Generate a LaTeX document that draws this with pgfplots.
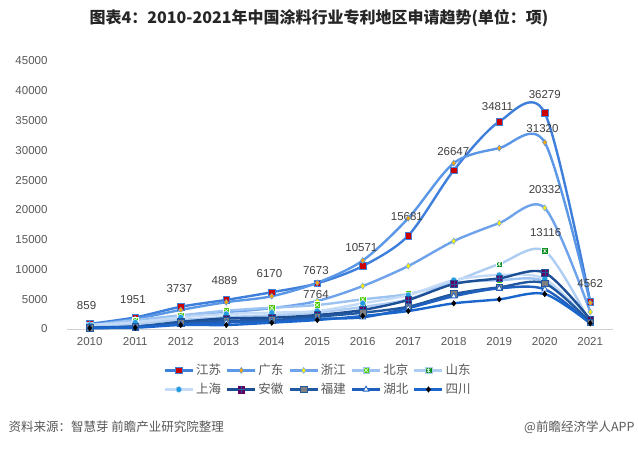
\documentclass[border=0pt]{standalone}
\usepackage{pgfplots}
\pgfplotsset{compat=1.18}
\usepackage{fontspec}
\setmainfont{Liberation Sans}
\newfontfamily\cjk{Noto Sans CJK SC}

\definecolor{cJS}{HTML}{3F7FDC}
\definecolor{cGD}{HTML}{5A97E6}
\definecolor{cZJ}{HTML}{6EA3EC}
\definecolor{cBJ}{HTML}{9CC3F2}
\definecolor{cSD}{HTML}{AECDF3}
\definecolor{cSH}{HTML}{C4DBF7}
\definecolor{cAH}{HTML}{1C4F96}
\definecolor{cFJ}{HTML}{22589F}
\definecolor{cHB}{HTML}{1F60BE}
\definecolor{cSC}{HTML}{1A66CC}
\definecolor{txt}{HTML}{595959}
\definecolor{lbl}{HTML}{404040}

\pgfdeclareplotmark{sqx}{%
  \pgfpathrectangle{\pgfqpoint{-\pgfplotmarksize}{-\pgfplotmarksize}}{\pgfqpoint{2\pgfplotmarksize}{2\pgfplotmarksize}}%
  \pgfusepathqfillstroke
  \pgfsetstrokecolor{white}\pgfsetlinewidth{0.5pt}%
  \pgfpathmoveto{\pgfqpoint{-0.6\pgfplotmarksize}{-0.6\pgfplotmarksize}}\pgfpathlineto{\pgfqpoint{0.6\pgfplotmarksize}{0.6\pgfplotmarksize}}%
  \pgfpathmoveto{\pgfqpoint{-0.6\pgfplotmarksize}{0.6\pgfplotmarksize}}\pgfpathlineto{\pgfqpoint{0.6\pgfplotmarksize}{-0.6\pgfplotmarksize}}%
  \pgfusepathqstroke}
\pgfdeclareplotmark{sqast}{%
  \pgfpathrectangle{\pgfqpoint{-\pgfplotmarksize}{-\pgfplotmarksize}}{\pgfqpoint{2\pgfplotmarksize}{2\pgfplotmarksize}}%
  \pgfusepathqfillstroke
  \pgfsetstrokecolor{white}\pgfsetlinewidth{0.5pt}%
  \pgfpathmoveto{\pgfqpoint{-0.6\pgfplotmarksize}{-0.6\pgfplotmarksize}}\pgfpathlineto{\pgfqpoint{0.6\pgfplotmarksize}{0.6\pgfplotmarksize}}%
  \pgfpathmoveto{\pgfqpoint{-0.6\pgfplotmarksize}{0.6\pgfplotmarksize}}\pgfpathlineto{\pgfqpoint{0.6\pgfplotmarksize}{-0.6\pgfplotmarksize}}%
  \pgfpathmoveto{\pgfqpoint{0pt}{-0.7\pgfplotmarksize}}\pgfpathlineto{\pgfqpoint{0pt}{0.7\pgfplotmarksize}}%
  \pgfusepathqstroke}
\pgfdeclareplotmark{sqplus}{%
  \pgfpathrectangle{\pgfqpoint{-\pgfplotmarksize}{-\pgfplotmarksize}}{\pgfqpoint{2\pgfplotmarksize}{2\pgfplotmarksize}}%
  \pgfusepathqfillstroke
  \pgfsetstrokecolor{cFJ}\pgfsetlinewidth{0.5pt}%
  \pgfpathmoveto{\pgfqpoint{0pt}{-\pgfplotmarksize}}\pgfpathlineto{\pgfqpoint{0pt}{\pgfplotmarksize}}%
  \pgfpathmoveto{\pgfqpoint{-\pgfplotmarksize}{0pt}}\pgfpathlineto{\pgfqpoint{\pgfplotmarksize}{0pt}}%
  \pgfusepathqstroke}

\begin{document}
\begin{tikzpicture}[x=1pt,y=1pt]
\path[use as bounding box, fill=white] (0,0) rectangle (638,450);
\node[font=\cjk\bfseries\fontsize{16}{19}\selectfont, text=black!85] at (319,432) {图表4：2010-2021年中国涂料行业专利地区申请趋势(单位：项)};
\node[font=\cjk\fontsize{12.5}{15}\selectfont, text=txt, anchor=west] at (5,23) {资料来源：智慧芽 前瞻产业研究院整理};
\node[font=\cjk\fontsize{12.5}{15}\selectfont, text=txt, anchor=east] at (638,23) {@前瞻经济学人APP};
\begin{axis}[
  at={(67pt,121pt)}, anchor=south west,
  scale only axis, width=546pt, height=268pt,
  xmin=-0.5, xmax=11.5, ymin=0, ymax=45000,
  xtick={0,...,11},
  xticklabels={2010,2011,2012,2013,2014,2015,2016,2017,2018,2019,2020,2021},
  ytick={0,5000,...,45000},
  scaled y ticks=false,
  /pgf/number format/assume math mode=true,
  yticklabel={\pgfmathprintnumber[fixed,1000 sep={}]{\tick}},
  axis lines*=left,
  x axis line style={draw=black!18, line width=0.8pt, -},
  y axis line style={draw=none},
  major tick length=0pt,
  tick label style={font=\fontsize{11.5}{13}\selectfont, text=txt},
  yticklabel style={xshift=-16pt},
  xticklabel style={yshift=-5pt},
  every axis plot/.append style={smooth, tension=0.5, line width=2.4pt},
  legend columns=5,
  legend style={at={(0.46,-0.19)}, anchor=center, draw=none, fill=none,
    font=\cjk\fontsize{12.5}{15}\selectfont, text=txt, row sep=3pt,
    /tikz/every even column/.append style={column sep=3pt}},
  legend image code/.code={\draw[mark repeat=2,mark phase=2,#1] plot coordinates {(0pt,0pt) (14pt,0pt) (28pt,0pt)};},
  clip=false,
]
\addplot[color=cJS, mark=square*, mark size=3.3pt, mark options={solid, fill=red!80!black, draw=cJS, line width=0.8pt}] coordinates {
(0,859) (1,1951) (2,3737) (3,4889) (4,6170) (5,7673) (6,10571) (7,15681) (8,26647) (9,34811) (10,36279) (11,4562)};
\addlegendentry{江苏}
\addplot[color=cGD, mark=diamond*, mark size=3pt, mark options={solid, fill=orange!70!yellow, draw=cGD, line width=0.5pt}] coordinates {
(0,700) (1,1700) (2,3200) (3,4500) (4,5500) (5,7764) (6,11500) (7,18600) (8,27850) (9,30370) (10,31320) (11,4400)};
\addlegendentry{广东}
\addplot[color=cZJ, mark=diamond*, mark size=3pt, mark options={solid, fill=yellow, draw=cZJ, line width=0.5pt}] coordinates {
(0,400) (1,1000) (2,2000) (3,2800) (4,3500) (5,4700) (6,7210) (7,10570) (8,14760) (9,17780) (10,20332) (11,2850)};
\addlegendentry{浙江}
\addplot[color=cBJ, mark=sqx, mark size=3.3pt, mark options={solid, fill=green!55!lime!80!black, draw=cBJ, line width=0.5pt}] coordinates {
(0,600) (1,1500) (2,2300) (3,3070) (4,3580) (5,4030) (6,4980) (7,5870) (8,7700) (9,8200) (10,8000) (11,1100)};
\addlegendentry{北京}
\addplot[color=cSD, mark=sqast, mark size=3.3pt, mark options={solid, fill=green!55!black!80!teal, draw=cSD, line width=0.5pt}] coordinates {
(0,300) (1,900) (2,1500) (3,2000) (4,2300) (5,2800) (6,3700) (7,5000) (8,7940) (9,10900) (10,13116) (11,1000)};
\addlegendentry{山东}
\addplot[color=cSH, mark=*, mark size=3pt, mark options={solid, fill=cyan!80!blue!90, draw=cSH, line width=0.5pt}] coordinates {
(0,700) (1,1100) (2,1960) (3,2520) (4,2740) (5,3020) (6,4310) (7,5700) (8,8200) (9,9060) (10,8400) (11,1200)};
\addlegendentry{上海}
\addplot[color=cAH, mark=sqplus, mark size=3.3pt, mark options={solid, fill=violet!75!black, draw=violet!75!black, line width=0.5pt}] coordinates {
(0,150) (1,400) (2,1200) (3,1790) (4,1900) (5,2350) (6,3190) (7,4870) (8,7550) (9,8500) (10,9450) (11,1600)};
\addlegendentry{安徽}
\addplot[color=cFJ, mark=square*, mark size=3.3pt, mark options={solid, fill=gray, draw=cFJ, line width=0.8pt}] coordinates {
(0,200) (1,450) (2,1000) (3,1400) (4,1500) (5,2070) (6,2740) (7,3740) (8,5870) (9,7000) (10,7670) (11,1100)};
\addlegendentry{福建}
\addplot[color=cHB, mark=triangle*, mark size=3.3pt, mark options={solid, fill=white, draw=cHB, line width=0.8pt}] coordinates {
(0,250) (1,350) (2,800) (3,1100) (4,1300) (5,1700) (6,1960) (7,3500) (8,5500) (9,6820) (10,6660) (11,900)};
\addlegendentry{湖北}
\addplot[color=cSC, mark=diamond*, mark size=2.8pt, mark options={solid, fill=black, draw=black, line width=0.4pt}] coordinates {
(0,150) (1,220) (2,670) (3,670) (4,1060) (5,1510) (6,2180) (7,3020) (8,4310) (9,4980) (10,5870) (11,950)};
\addlegendentry{四川}

\begin{scope}[every node/.style={font=\fontsize{11.5}{13}\selectfont, text=lbl}]
\node at (axis cs:-0.07,3860) {859};
\node at (axis cs:0.95,4990) {1951};
\node at (axis cs:1.97,6830) {3737};
\node at (axis cs:2.96,8060) {4889};
\node at (axis cs:3.95,9230) {6170};
\node at (axis cs:4.97,9860) {7673};
\node at (axis cs:4.97,5710) {7764};
\node at (axis cs:5.97,13650) {10571};
\node at (axis cs:6.97,18860) {15681};
\node at (axis cs:7.99,29780) {26647};
\node at (axis cs:8.96,37330) {34811};
\node at (axis cs:10,39400) {36279};
\node at (axis cs:9.95,33700) {31320};
\node at (axis cs:10,23340) {20332};
\node at (axis cs:10.02,16240) {13116};
\node at (axis cs:11,7670) {4562};
\end{scope}
\end{axis}
\end{tikzpicture}
\end{document}
